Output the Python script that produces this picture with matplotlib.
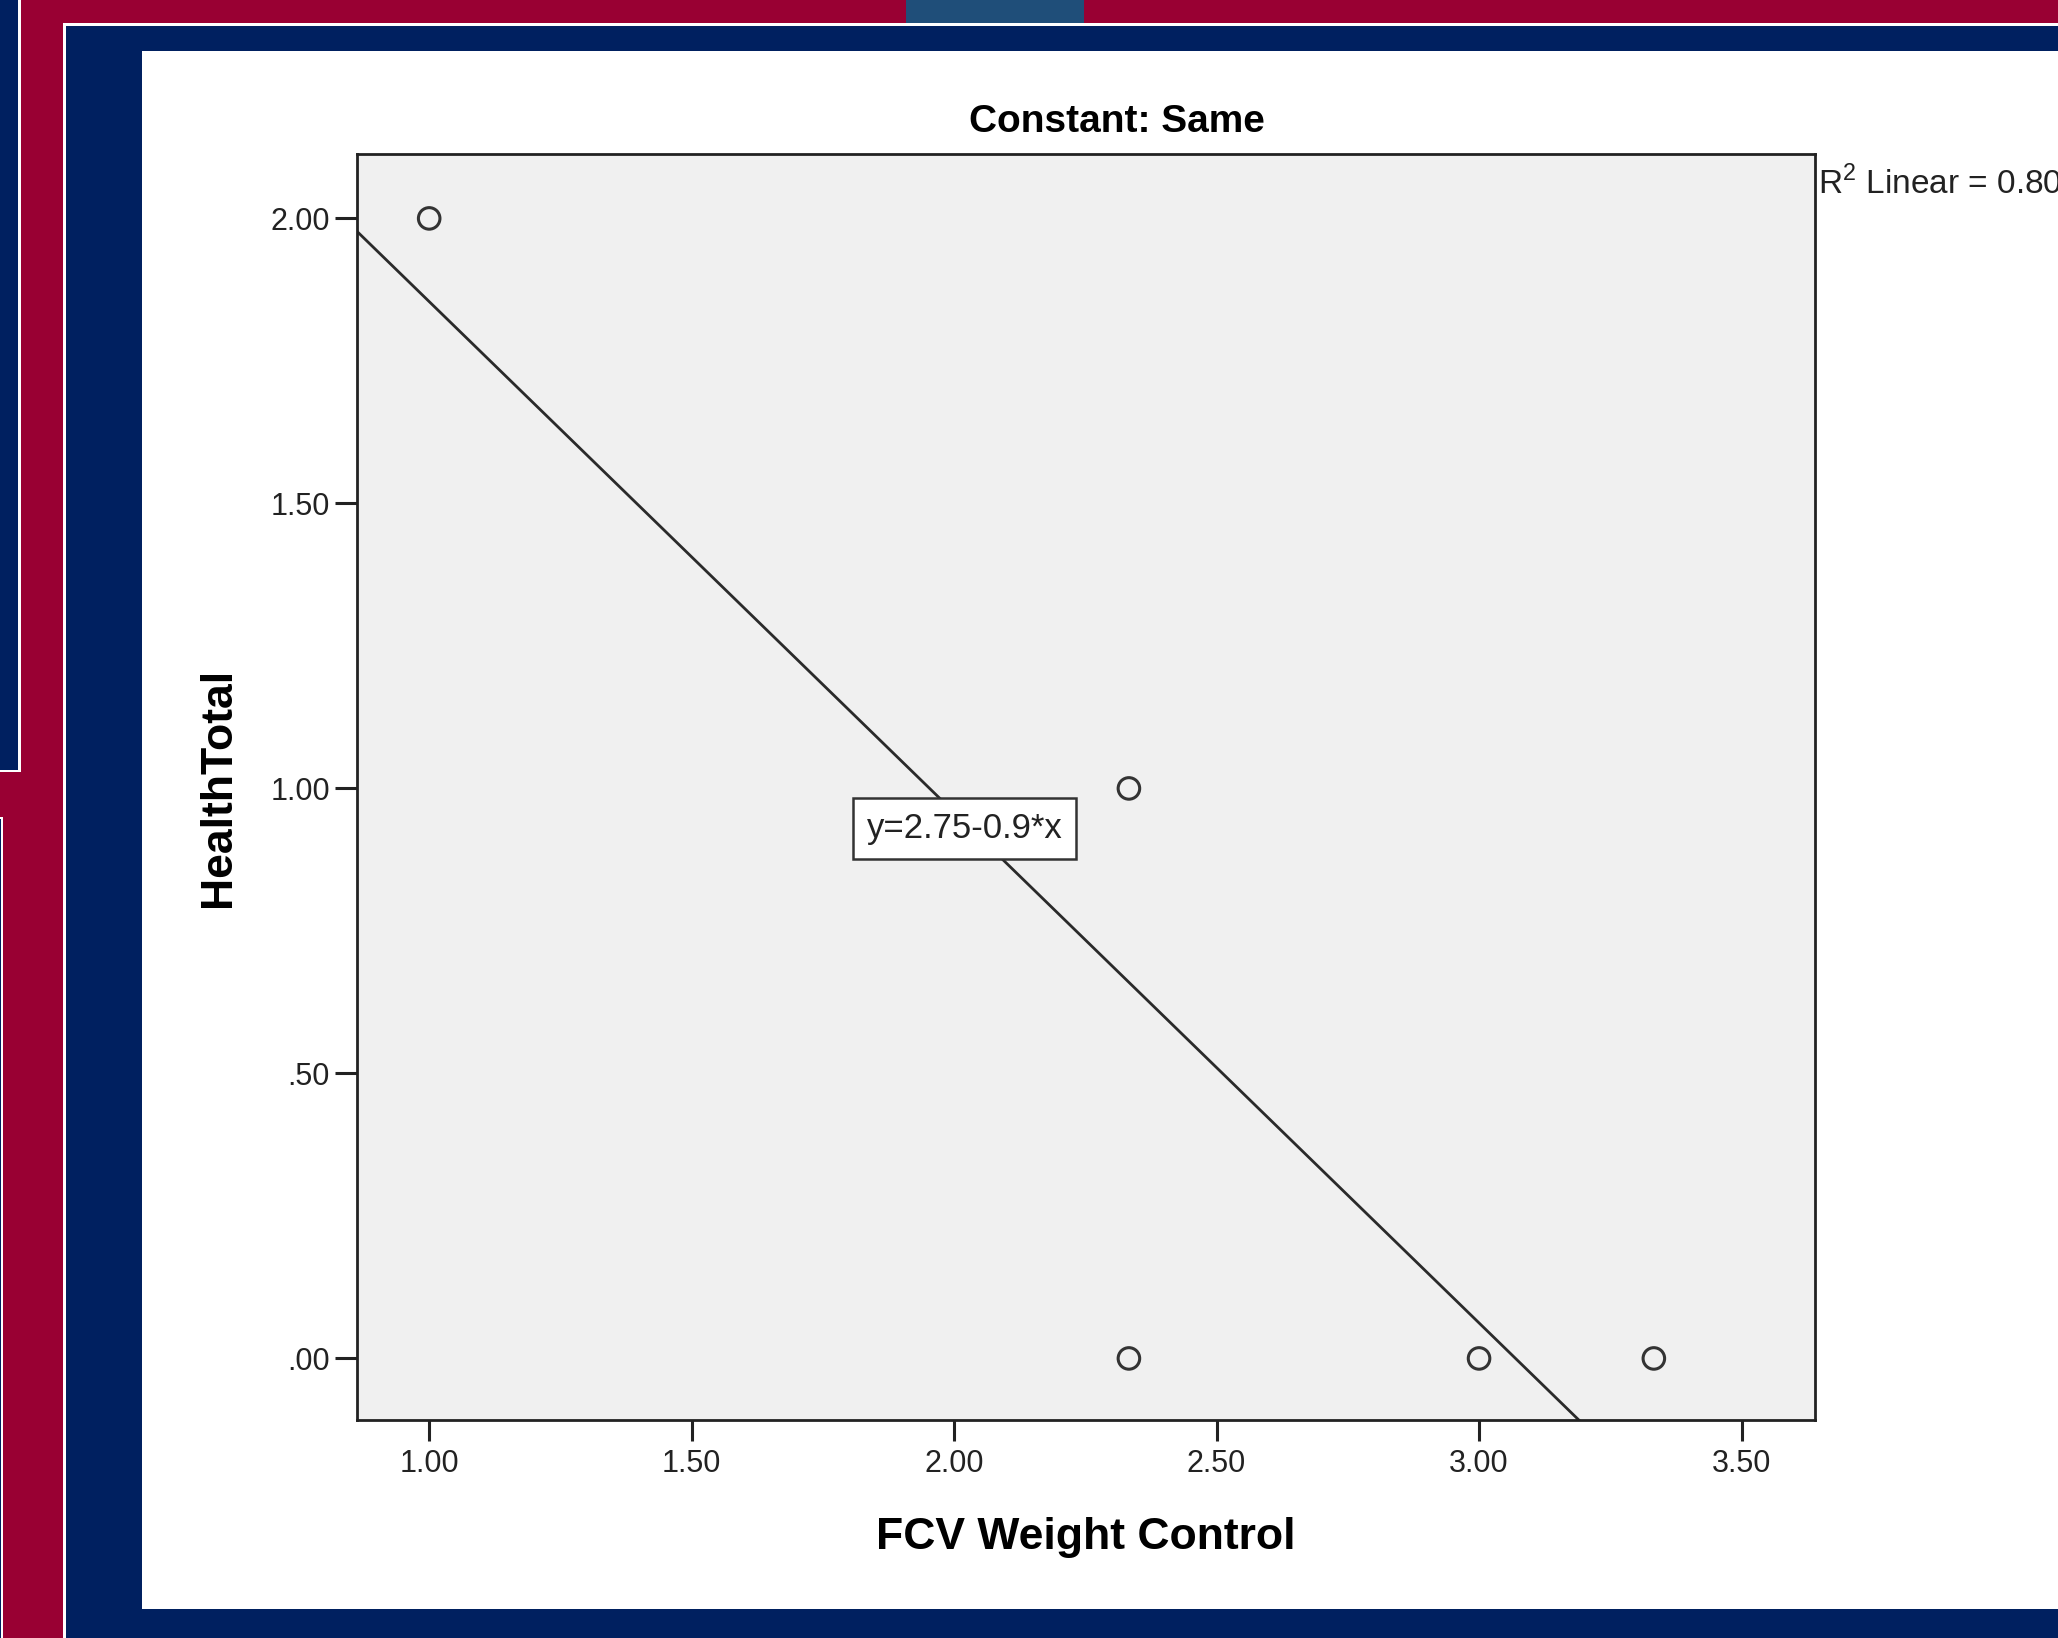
import numpy as np
import matplotlib
matplotlib.use('Agg')
import matplotlib.pyplot as plt
from matplotlib.patches import Rectangle

plt.rcParams['font.family'] = ['Liberation Sans', 'DejaVu Sans']
plt.rcParams['mathtext.fontset'] = 'custom'
plt.rcParams['mathtext.rm'] = 'Liberation Sans'

# data
fcv_weight = [1.00, 2.333, 2.333, 3.00, 3.333]
health_total = [2.00, 1.00, 0.00, 0.00, 0.00]

x_ticks = [1.0, 1.5, 2.0, 2.5, 3.0, 3.5]
x_ticklabels = ['1.00', '1.50', '2.00', '2.50', '3.00', '3.50']
y_ticks = [0.0, 0.5, 1.0, 1.5, 2.0]
y_ticklabels = ['.00', '.50', '1.00', '1.50', '2.00']

title = 'Constant: Same'
eq_label = 'y=2.75-0.9*x'
r2_label = 'R$^2$ Linear = 0.80'

W, H = 2058, 1638
crimson = '#990033'
navy = '#002060'
steel = '#1F4E79'

fig = plt.figure(figsize=(W / 100, H / 100), dpi=100, facecolor=crimson)


def px_rect(x0, y0, x1, y1, color):
    # pixel box, origin top-left
    r = Rectangle((x0 / W, 1 - y1 / H), (x1 - x0) / W, (y1 - y0) / H,
                  transform=fig.transFigure, facecolor=color, edgecolor='none', zorder=-10)
    fig.patches.append(r)


# slide decoration behind the chart
px_rect(0, 0, 21, 772, 'white')
px_rect(0, 0, 18, 770, navy)
px_rect(0, 817, 3, H, 'white')
px_rect(0, 819, 1.2, H, navy)
px_rect(906, 0, 1084, 23, steel)
px_rect(63, 23, W, H, 'white')
px_rect(66, 25.5, W, H, navy)
px_rect(142, 51, W, 1609, 'white')

ax = fig.add_axes([357 / W, 1 - 1420 / H, (1815 - 357) / W, (1420 - 154) / H])
ax.set_zorder(5)
ax.set_facecolor('#F0F0F0')

ax.scatter(fcv_weight, health_total, s=15.5 ** 2, facecolors='none',
           edgecolors='#333333', linewidths=2.2, zorder=3)

# linear fit
slope, intercept = np.polyfit(fcv_weight, health_total, 1)
xlim = (0.8625, 3.64)
xs = np.array(xlim)
ax.plot(xs, intercept + slope * xs, color='#2a2a2a', lw=2, zorder=2)

ax.set_xlim(xlim)
ax.set_ylim(-0.108, 2.113)

ax.set_xticks(x_ticks)
ax.set_xticklabels(x_ticklabels)
ax.set_yticks(y_ticks)
ax.set_yticklabels(y_ticklabels)
ax.tick_params(axis='both', labelsize=22, colors='#222222', width=2.2)
ax.tick_params(axis='x', length=15, pad=6)
ax.tick_params(axis='y', length=16, pad=3.5)
for sp in ax.spines.values():
    sp.set_color('#222222')
    sp.set_linewidth(2)

ax.text(2.02, 0.93, eq_label, ha='center', va='center', fontsize=25, color='#222222',
        bbox=dict(boxstyle='square,pad=0.4', facecolor='white', edgecolor='#333333', lw=1.8),
        zorder=4)

ax.text(0.521, 1.025, title, transform=ax.transAxes, ha='center', va='center',
        fontsize=28, fontweight='bold')
ax.text(1.002, 0.977, r2_label, transform=ax.transAxes, ha='left', va='center',
        fontsize=24, color='#222222')

ax.set_xlabel('FCV Weight Control', fontsize=32, fontweight='bold')
ax.xaxis.set_label_coords(0.5, -0.077)
ax.set_ylabel('HealthTotal', fontsize=32, fontweight='bold')
ax.yaxis.set_label_coords(-0.081, 0.5)

fig.savefig('out.png', dpi=100, facecolor=fig.get_facecolor())
